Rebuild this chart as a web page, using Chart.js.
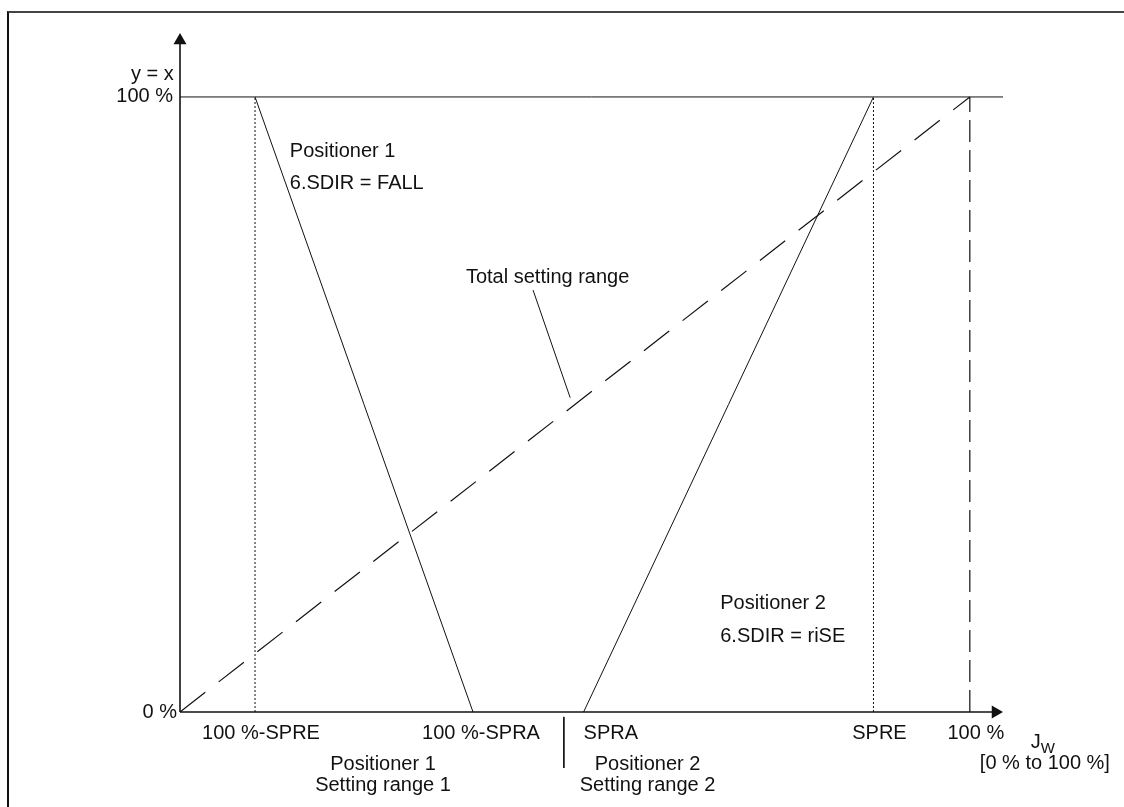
<!DOCTYPE html>
<html>
<head>
<meta charset="utf-8">
<script src="https://cdn.jsdelivr.net/npm/chart.js@4.4.1/dist/chart.umd.min.js"></script>
<style>
  html, body { margin: 0; padding: 0; background: #fff; }
  #wrap { position: relative; width: 1124px; height: 807px; overflow: hidden; }
  #frame { position: absolute; left: 7px; top: 11px; right: -5px; bottom: -5px;
           border-left: 2px solid #111; border-top: 2px solid #444; }
  canvas { position: absolute; left: 0; top: 0; }
</style>
</head>
<body>
<div id="wrap">
  <div id="frame"></div>
  <canvas id="chart" width="1124" height="807"></canvas>
</div>
<script>
/* ===============================
   DATA (Jw in %, y = x in %)
================================ */
const positioner1 = [[9.5, 100], [37.1, 0]];   // 6.SDIR = FALL
const positioner2 = [[51.1, 0], [87.8, 100]];  // 6.SDIR = riSE
const totalRange  = [[0, 0], [100, 100]];
const topLimit    = [[0, 100], [104.2, 100]];
const spreInvMark = [[9.5, 0], [9.5, 100]];
const spreMark    = [[87.8, 0], [87.8, 100]];
const fullMark    = [[100, 0], [100, 100]];

const xTickValues = [9.5, 37.1, 51.1, 87.8, 100];
const xTickLabels = ["100 %-SPRE", "100 %-SPRA", "SPRA", "SPRE", "100 %"];
const yTickValues = [0, 100];
const yTickLabels = ["0 %", "100 %"];

const X_MAX = 104.2;
const Y_MAX = 110.4;

/* ===============================
   HELPERS
================================ */
const FONT = '"Liberation Sans", Arial, Helvetica, sans-serif';
const INK = "#111";

function pts(arr) {
  return arr.map(p => ({ x: p[0], y: p[1] }));
}

function line(data, width, dash, color) {
  return {
    data: pts(data),
    showLine: true,
    borderColor: color || INK,
    borderWidth: width,
    borderDash: dash || [],
    pointRadius: 0,
    tension: 0,
    clip: false
  };
}

// axes with arrow heads (triangle point at the far end)
function axis(data, rotation) {
  const ds = line(data, 1.6);
  ds.pointRadius = [0, 7.5];
  ds.pointStyle = "triangle";
  ds.rotation = rotation;
  ds.pointBackgroundColor = INK;
  ds.pointBorderWidth = 0;
  return ds;
}

/* ===============================
   TEXT ANNOTATIONS
================================ */
const notes = [
  { t: "Positioner 1",        x: 13.9, y: 91.2,  a: "left" },
  { t: "6.SDIR = FALL",       x: 13.9, y: 85.9,  a: "left" },
  { t: "Total setting range", x: 36.2, y: 70.6,  a: "left" },
  { t: "Positioner 2",        x: 68.4, y: 17.6,  a: "left" },
  { t: "6.SDIR = riSE",       x: 68.4, y: 12.2,  a: "left" },
  { t: "y = x",               x: -0.8, y: 103.7, a: "right" },
  { t: "Positioner 1",        x: 25.7, y: -8.6,  a: "center" },
  { t: "Setting range 1",     x: 25.7, y: -12.0, a: "center" },
  { t: "Positioner 2",        x: 59.2, y: -8.6,  a: "center" },
  { t: "Setting range 2",     x: 59.2, y: -12.0, a: "center" },
  { t: "[0 % to 100 %]",      x: 109.5, y: -8.3, a: "center" }
];
const xTickShift = [6, 8, 0, 6, 6];
const xTickAlign = ["center", "center", "left", "center", "center"];

const textPlugin = {
  id: "texts",
  afterDatasetsDraw(chart) {
    const { ctx } = chart;
    const xs = chart.scales.x, ys = chart.scales.y;
    ctx.save();
    ctx.fillStyle = INK;
    ctx.textBaseline = "middle";
    ctx.font = "20px " + FONT;

    // x tick labels
    const yTick = ys.getPixelForValue(0) + 21;
    xTickValues.forEach((v, i) => {
      ctx.textAlign = xTickAlign[i];
      ctx.fillText(xTickLabels[i], xs.getPixelForValue(v) + xTickShift[i], yTick);
    });

    // y tick labels
    ctx.textAlign = "right";
    yTickValues.forEach((v, i) => {
      const dx = v === 0 ? -3 : -7;
      ctx.fillText(yTickLabels[i], xs.getPixelForValue(0) + dx, ys.getPixelForValue(v));
    });

    notes.forEach(n => {
      ctx.textAlign = n.a;
      ctx.fillText(n.t, xs.getPixelForValue(n.x), ys.getPixelForValue(n.y));
    });

    // axis title J with subscript W
    const jx = xs.getPixelForValue(107.7), jy = ys.getPixelForValue(-5.0);
    ctx.textAlign = "left";
    ctx.fillText("J", jx, jy);
    const jw = ctx.measureText("J").width;
    ctx.font = "15px " + FONT;
    ctx.fillText("W", jx + jw, jy + 6);
    ctx.restore();
  }
};

/* ===============================
   CHART
================================ */
new Chart(document.getElementById("chart"), {
  type: "scatter",
  data: {
    datasets: [
      line(topLimit, 1),
      line(spreInvMark, 1, [2, 2]),
      line(spreMark, 1, [2, 2]),
      line(fullMark, 1.2, [22, 8]),
      line(totalRange, 1.2, [32, 17]),
      line(positioner1, 1),
      line(positioner2, 1),
      line([[44.7, 68.6], [49.4, 51.1]], 1),     // leader to dashed line
      line([[48.6, -0.8], [48.6, -9.1]], 1),     // range separator
      axis([[0, 0], [0, Y_MAX - 1.22]], 0),
      axis([[0, 0], [X_MAX - 0.95, 0]], 90)
    ]
  },
  options: {
    responsive: false,
    animation: false,
    layout: { padding: { left: 180, right: 121, top: 33, bottom: 95 } },
    plugins: { legend: { display: false }, tooltip: { enabled: false } },
    scales: {
      x: { type: "linear", min: 0, max: X_MAX, display: false },
      y: { type: "linear", min: 0, max: Y_MAX, display: false }
    }
  },
  plugins: [textPlugin]
});
</script>
</body>
</html>
